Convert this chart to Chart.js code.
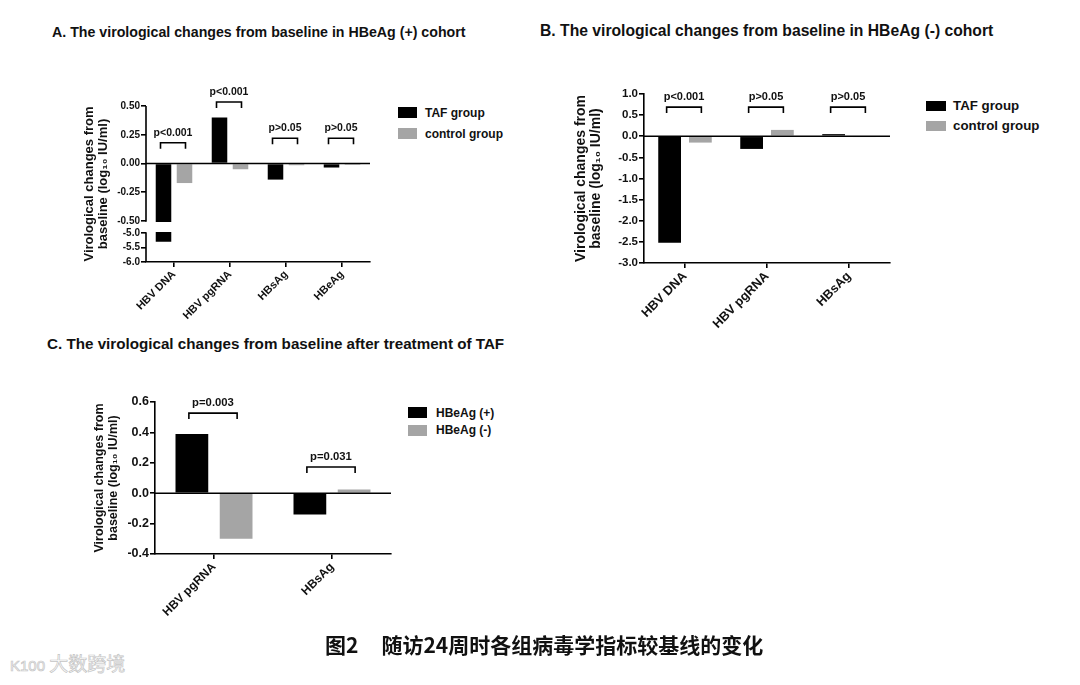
<!DOCTYPE html>
<html>
<head>
<meta charset="utf-8">
<script src="https://cdn.jsdelivr.net/npm/chart.js@4.4.1/dist/chart.umd.min.js"></script>
<style>
  body { margin: 0; width: 1080px; height: 685px; background: #fff; position: relative; overflow: hidden;
         font-family: "Liberation Sans", Arial, sans-serif; color: #111; }
  canvas { position: absolute; }
  .ttl { position: absolute; font-weight: bold; white-space: nowrap; line-height: 1; transform: translateY(-50%); }
  .leg { position: absolute; font-weight: bold; white-space: nowrap; line-height: 1; }
  .sw { position: absolute; }
  .cap { position: absolute; left: 325px; top: 644px; transform: translateY(-50%); font-family: "Noto Sans CJK SC", sans-serif;
         font-weight: bold; font-size: 21px; white-space: nowrap; line-height: 1; color: #111; }
  .wm { position: absolute; left: 10px; top: 662px; transform: translateY(-50%); font-family: "Noto Sans CJK SC", sans-serif;
        font-size: 19px; color: #fff; -webkit-text-stroke: 0.7px #c4c4c4; white-space: nowrap; }
</style>
</head>
<body>
<div class="ttl" style="left:52px;top:32px;font-size:14.2px">A. The virological changes from baseline in HBeAg (+) cohort</div>
<div class="ttl" style="left:540px;top:31px;font-size:15.7px">B. The virological changes from baseline in HBeAg (-) cohort</div>
<div class="ttl" style="left:47px;top:344px;font-size:15.2px">C. The virological changes from baseline after treatment of TAF</div>

<canvas id="chartA" width="305" height="255" style="left:75px;top:80px"></canvas>
<canvas id="chartB" width="332" height="280" style="left:568px;top:70px"></canvas>
<canvas id="chartC" width="321" height="250" style="left:80px;top:380px"></canvas>

<div class="cap">图2<span style="margin-left:23px">随访24周时各组病毒学指标较基线的变化</span></div>
<div class="wm"><span style="font-size:15px;font-family:'Liberation Sans'">K100</span> 大数跨境</div>

<script>
// ---- data ----
// A: HBeAg (+) cohort
const catsA = ['HBV DNA', 'HBV pgRNA', 'HBsAg', 'HBeAg'];
const tafA = [-5.3, 0.40, -0.14, -0.035];
const ctrlA = [-0.17, -0.05, -0.015, -0.012];
const sigYA = [0.18, 0.535, 0.22, 0.22];
const sigTextA = ['p<0.001', 'p<0.001', 'p>0.05', 'p>0.05'];
const tickValsA = [-6.0, -5.5, -5.0, -0.5, -0.25, 0, 0.25, 0.5];
const tickLabelsA = ['-6.0', '-5.5', '-5.0', '-0.50', '-0.25', '0.00', '0.25', '0.50'];

// B: HBeAg (-) cohort
const catsB = ['HBV DNA', 'HBV pgRNA', 'HBsAg'];
const tafB = [-2.52, -0.30, 0.05];
const ctrlB = [-0.15, 0.15, -0.02];
const sigYB = [0.69, 0.69, 0.69];
const sigTextB = ['p<0.001', 'p>0.05', 'p>0.05'];

// C: after TAF, by HBeAg status
const catsC = ['HBV pgRNA', 'HBsAg'];
const posC = [0.39, -0.14];
const negC = [-0.30, 0.025];
const sigYC = [0.527, 0.172];
const sigTextC = ['p=0.003', 'p=0.031'];

const seriesAB = ['TAF group', 'control group'];
const seriesC = ['HBeAg (+)', 'HBeAg (-)'];
const BLACK = '#000000', GREY = '#a5a5a5';

Chart.defaults.font.family = '"Liberation Sans", Arial, sans-serif';
Chart.defaults.color = '#111';

// broken y axis for panel A: 0.5..-0.5 on top, -5..-6 at the bottom
const BREAK_HI = -0.5, BREAK_LO = -5.0;
const SPLIT_HI = 115 / 156, SPLIT_LO = 127 / 156;

class BrokenScale extends Chart.LinearScale {
  buildTicks() {
    this.start = this.min;
    this.end = this.max;
    return tickValsA.map(v => ({ value: v }));
  }
  getPixelForValue(v) {
    let f;
    if (v >= BREAK_HI) f = (this.max - v) / (this.max - BREAK_HI) * SPLIT_HI;
    else if (v >= BREAK_LO) f = SPLIT_HI + (BREAK_HI - v) / (BREAK_HI - BREAK_LO) * (SPLIT_LO - SPLIT_HI);
    else f = SPLIT_LO + (BREAK_LO - v) / (BREAK_LO - this.min) * (1 - SPLIT_LO);
    return this.top + f * (this.bottom - this.top);
  }
  getValueForPixel(p) {
    const f = (p - this.top) / (this.bottom - this.top);
    if (f <= SPLIT_HI) return this.max - f / SPLIT_HI * (this.max - BREAK_HI);
    if (f <= SPLIT_LO) return BREAK_HI - (f - SPLIT_HI) / (SPLIT_LO - SPLIT_HI) * (BREAK_HI - BREAK_LO);
    return BREAK_LO - (f - SPLIT_LO) / (1 - SPLIT_LO) * (BREAK_LO - this.min);
  }
}
BrokenScale.id = 'brokenY';
BrokenScale.defaults = Chart.LinearScale.defaults;
Chart.register(BrokenScale);

// zero line, p-value brackets, axis break
function annotations(sigY, sigText, fs, broken) {
  return {
    id: 'annot',
    afterDatasetsDraw(chart) {
      const { ctx, chartArea: a, scales: { y } } = chart;
      const m0 = chart.getDatasetMeta(0), m1 = chart.getDatasetMeta(1);
      ctx.save();
      ctx.strokeStyle = '#000';
      ctx.lineWidth = 1.6;
      if (broken) {
        const g1 = y.getPixelForValue(BREAK_HI), g2 = y.getPixelForValue(BREAK_LO);
        ctx.fillStyle = '#fff';
        ctx.fillRect(a.left + 1, g1 + 1, a.right - a.left, g2 - g1 - 2);
        ctx.beginPath();
        ctx.moveTo(a.left, a.top); ctx.lineTo(a.left, g1 + 0.8);
        ctx.moveTo(a.left, g2 - 0.8); ctx.lineTo(a.left, a.bottom);
        ctx.stroke();
      }
      const z = y.getPixelForValue(0);
      ctx.beginPath(); ctx.moveTo(a.left, z); ctx.lineTo(a.right, z); ctx.stroke();

      ctx.font = `bold ${fs}px "Liberation Sans", Arial, sans-serif`;
      ctx.fillStyle = '#111';
      ctx.textAlign = 'center';
      ctx.textBaseline = 'middle';
      sigY.forEach((v, i) => {
        const x1 = m0.data[i].x - 3, x2 = m1.data[i].x + 1, yy = y.getPixelForValue(v);
        ctx.beginPath();
        ctx.moveTo(x1, yy + 6); ctx.lineTo(x1, yy); ctx.lineTo(x2, yy); ctx.lineTo(x2, yy + 6);
        ctx.stroke();
        ctx.fillText(sigText[i], (x1 + x2) / 2, yy - 10);
      });
      ctx.restore();
    }
  };
}

function barChart(id, p) {
  const yTitle = ['Virological changes from', 'baseline (log\u2081\u2080 IU/ml)'];
  const yScale = Object.assign({
    grid: { drawOnChartArea: false, color: '#000', lineWidth: 1.6, tickLength: 5 },
    border: { display: !p.broken, color: '#000', width: 1.6 },
    title: { display: true, text: yTitle, color: '#111', padding: { top: p.titlePad, bottom: 0 },
             font: { size: p.titleSize, weight: 'bold', lineHeight: p.titleLH } },
    afterFit(s) { s.width = p.yWidth; }
  }, p.y);
  return new Chart(document.getElementById(id), {
    type: 'bar',
    data: {
      labels: p.labels,
      datasets: [
        { label: p.names[0], data: p.a, backgroundColor: BLACK, borderWidth: 0 },
        { label: p.names[1], data: p.b, backgroundColor: GREY, borderWidth: 0 }
      ]
    },
    options: {
      responsive: false,
      animation: false,
      layout: { padding: { top: p.padTop, right: p.padRight, left: 0, bottom: 0 } },
      datasets: { bar: { categoryPercentage: 0.75, barPercentage: 0.74 } },
      plugins: { legend: { display: false }, tooltip: { enabled: false } },
      scales: {
        x: {
          grid: { drawOnChartArea: false, offset: false, color: '#000', lineWidth: 1.6, tickLength: 5 },
          border: { display: true, color: '#000', width: 1.6 },
          ticks: { autoSkip: false, minRotation: 45, maxRotation: 45, padding: 1, color: '#111',
                   font: { size: p.xSize, weight: 'bold' } },
          afterFit(s) { s.height = p.xHeight; }
        },
        y: yScale
      }
    },
    plugins: [annotations(p.sigY, p.sigText, p.sigSize, p.broken)]
  });
}

barChart('chartA', {
  labels: catsA, names: seriesAB, a: tafA, b: ctrlA, sigY: sigYA, sigText: sigTextA, broken: true,
  y: { type: 'brokenY', min: -6, max: 0.5, ticks: { autoSkip: false, padding: 1, color: '#111',
       font: { size: 10, weight: 'bold' }, callback: (v, i) => tickLabelsA[i] } },
  xSize: 11, titleSize: 13, titleLH: 1.08, titlePad: 7, sigSize: 10.5,
  yWidth: 71, xHeight: 73, padTop: 26, padRight: 10
});

barChart('chartB', {
  labels: catsB, names: seriesAB, a: tafB, b: ctrlB, sigY: sigYB, sigText: sigTextB, broken: false,
  y: { min: -3, max: 1, ticks: { autoSkip: false, padding: 1, color: '#111', stepSize: 0.5,
       font: { size: 11.5, weight: 'bold' }, callback: v => v.toFixed(1) } },
  xSize: 12.7, titleSize: 14, titleLH: 1.07, titlePad: 5.5, sigSize: 11,
  yWidth: 76, xHeight: 87, padTop: 24, padRight: 10
});

barChart('chartC', {
  labels: catsC, names: seriesC, a: posC, b: negC, sigY: sigYC, sigText: sigTextC, broken: false,
  y: { min: -0.4, max: 0.6, ticks: { autoSkip: false, padding: 1, color: '#111', stepSize: 0.2,
       font: { size: 12.5, weight: 'bold' }, callback: v => v.toFixed(1) } },
  xSize: 12, titleSize: 12.5, titleLH: 1.12, titlePad: 13, sigSize: 11.3,
  yWidth: 75, xHeight: 76, padTop: 22, padRight: 10
});

// legends
function legend(x, y0, dy, bw, bh, textX, fs, names) {
  [BLACK, GREY].forEach((c, i) => {
    const top = y0 + i * dy;
    const sw = document.createElement('div');
    sw.className = 'sw';
    Object.assign(sw.style, { left: x + 'px', top: top + 'px', width: bw + 'px', height: bh + 'px', background: c });
    document.body.appendChild(sw);
    const t = document.createElement('div');
    t.className = 'leg';
    t.textContent = names[i];
    Object.assign(t.style, { left: textX + 'px', top: (top + bh / 2) + 'px', fontSize: fs + 'px', transform: 'translateY(-50%)' });
    document.body.appendChild(t);
  });
}
legend(398, 107, 21, 19, 11, 425, 12, seriesAB);
legend(926, 101, 20, 20, 10, 953, 13.3, seriesAB);
legend(408, 407, 17.5, 19, 11, 436, 12, seriesC);
</script>
</body>
</html>
